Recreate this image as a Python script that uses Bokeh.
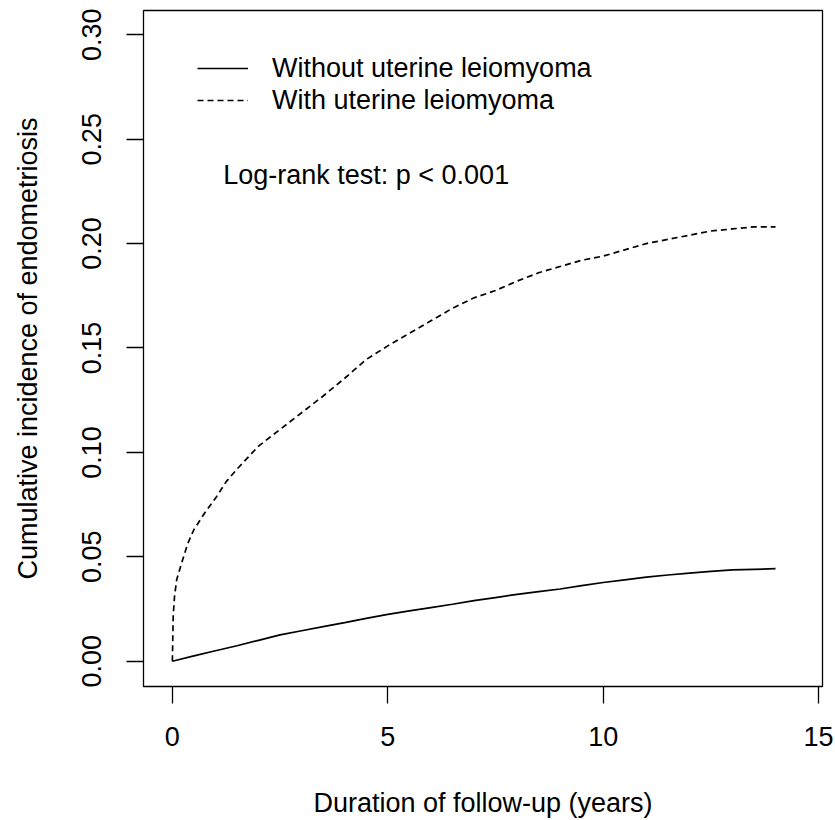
from bokeh.plotting import figure
from bokeh.models import (Range1d, FixedTicker, PrintfTickFormatter, Legend, LegendItem, Label)
from bokeh.embed import file_html
from bokeh.resources import INLINE

# Data (cumulative incidence curves)
t_without = [0, 0.5, 1, 1.5, 2, 2.5, 3, 3.5, 4, 4.5, 5, 5.5, 6, 6.5, 7, 7.5, 8, 8.5,
             9, 9.5, 10, 10.5, 11, 11.5, 12, 12.5, 13, 13.5, 14]
ci_without = [0, 0.0026, 0.0050, 0.0074, 0.0100, 0.0126, 0.0146, 0.0166, 0.0185, 0.0205,
              0.0224, 0.0241, 0.0257, 0.0273, 0.0290, 0.0305, 0.0320, 0.0333, 0.0346,
              0.0362, 0.0377, 0.0390, 0.0403, 0.0413, 0.0422, 0.0430, 0.0437, 0.0440, 0.0443]

t_with = [0, 0.02, 0.05, 0.1, 0.2, 0.35, 0.5, 0.75, 1.0, 1.25, 1.5, 2.0, 2.5, 3.0, 3.5,
          4.0, 4.5, 5.0, 5.5, 6.0, 6.5, 7.0, 7.5, 8.0, 8.5, 9.0, 9.5, 10.0, 10.5, 11.0,
          11.5, 12.0, 12.5, 13.0, 13.5, 14.0]
ci_with = [0, 0.022, 0.031, 0.039, 0.046, 0.056, 0.063, 0.071, 0.078, 0.086, 0.092, 0.103,
           0.111, 0.119, 0.127, 0.1355, 0.1445, 0.151, 0.157, 0.163, 0.169, 0.174, 0.1775,
           0.182, 0.186, 0.189, 0.192, 0.194, 0.197, 0.200, 0.202, 0.204, 0.206, 0.207,
           0.208, 0.208]

x_ticks = [0, 5, 10, 15]
y_ticks = [0.0, 0.05, 0.10, 0.15, 0.20, 0.25, 0.30]

label_without = "Without uterine leiomyoma"
label_with = "With uterine leiomyoma"
annot_text = "Log-rank test: p < 0.001"
x_title = "Duration of follow-up (years)"
y_title = "Cumulative incidence of endometriosis"

FONT = "Liberation Sans"
FS = "27px"

p = figure(width=835, height=820, output_backend="svg", toolbar_location=None,
           x_range=Range1d(-0.67, 15.09), y_range=Range1d(-0.0121, 0.3116),
           min_border_left=143, min_border_right=13, min_border_top=10,
           min_border_bottom=133)
p.background_fill_color = "white"
p.border_fill_color = "white"
p.outline_line_color = "black"
p.outline_line_width = 1.3
p.grid.visible = False

r1 = p.line(t_without, ci_without, line_color="black", line_width=1.7)
r2 = p.line(t_with, ci_with, line_color="black", line_width=1.7, line_dash="6 4")

for ax in (p.xaxis[0], p.yaxis[0]):
    ax.axis_line_color = None
    ax.major_tick_in = 0
    ax.major_tick_out = 17
    ax.major_tick_line_color = "black"
    ax.major_tick_line_width = 1.3
    ax.minor_tick_line_color = None
    ax.major_label_text_font = FONT
    ax.major_label_text_font_size = FS
    ax.major_label_text_color = "black"
    ax.axis_label_text_font = FONT
    ax.axis_label_text_font_size = FS
    ax.axis_label_text_font_style = "normal"
    ax.axis_label_text_color = "black"

p.xaxis.ticker = FixedTicker(ticks=x_ticks)
p.yaxis.ticker = FixedTicker(ticks=y_ticks)
p.yaxis.formatter = PrintfTickFormatter(format="%.2f")
p.yaxis.major_label_orientation = "vertical"
p.xaxis.axis_label = x_title
p.yaxis.axis_label = y_title
p.xaxis.major_label_standoff = 23
p.xaxis.axis_label_standoff = 39
p.yaxis.major_label_standoff = 25
p.yaxis.axis_label_standoff = 37

legend = Legend(items=[LegendItem(label=label_without, renderers=[r1]),
                       LegendItem(label=label_with, renderers=[r2])],
                location=(54, 570), orientation="vertical")
legend.border_line_color = None
legend.background_fill_alpha = 0
legend.padding = 0
legend.margin = 0
legend.spacing = 0
legend.glyph_width = 51
legend.glyph_height = 32
legend.label_height = 32
legend.label_standoff = 24
legend.label_text_font = FONT
legend.label_text_font_size = FS
legend.label_text_color = "black"
p.add_layout(legend)

ann = Label(x=1.18, y=0.2327, text=annot_text, text_font=FONT, text_font_size=FS,
            text_color="black", text_baseline="alphabetic", text_align="left")
p.add_layout(ann)

open("out.html", "w").write(file_html(p, INLINE))
